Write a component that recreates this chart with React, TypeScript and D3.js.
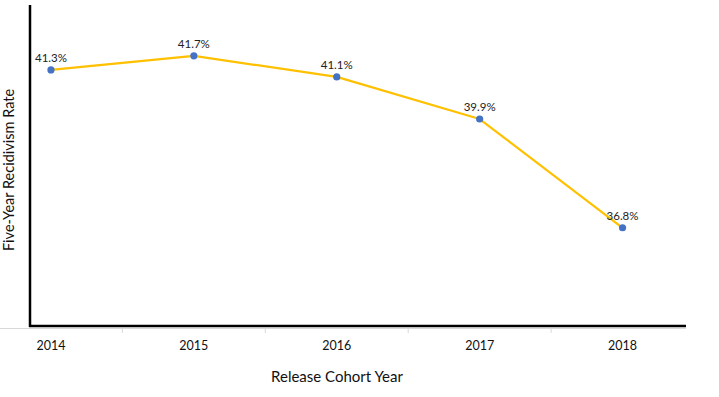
import React from "react";
import * as d3 from "d3";

const categories = ["2014", "2015", "2016", "2017", "2018"];
const values = [41.3, 41.7, 41.1, 39.9, 36.8];
const labels = ["41.3%", "41.7%", "41.1%", "39.9%", "36.8%"];

export default function App() {
  const W = 719, H = 397;
  const x = d3.scaleBand<string>().domain(categories).range([-20.5, 694]);
  const y = d3.scaleLinear().domain([34, 43.15]).range([326, 5]);
  const cx = (c: string) => (x(c) as number) + x.bandwidth() / 2;
  const line = d3.line<number>().x((_, i) => cx(categories[i])).y((v) => y(v));
  const font = "Lato, 'Open Sans', sans-serif";
  const boundaries = categories.slice(1).map((c) => x(c) as number);
  return (
    <svg width={W} height={H} style={{ position: "absolute", left: 0, top: 0, background: "#fff" }}>
      <line x1={0} x2={686} y1={328.5} y2={328.5} stroke="#d9d9d9" strokeWidth={1} />
      {boundaries.map((b, i) => (
        <line key={i} x1={b} x2={b} y1={328} y2={333} stroke="#d9d9d9" strokeWidth={1} />
      ))}
      <line x1={30} x2={30} y1={5} y2={327} stroke="#000" strokeWidth={2.5} />
      <line x1={29} x2={686} y1={326} y2={326} stroke="#000" strokeWidth={2.5} />
      <path d={line(values) || ""} fill="none" stroke="#FFC000" strokeWidth={2.2} strokeLinejoin="round" />
      {values.map((v, i) => (
        <circle key={i} cx={cx(categories[i])} cy={y(v)} r={3.6} fill="#4472C4" />
      ))}
      {values.map((v, i) => (
        <text key={i} x={cx(categories[i])} y={y(v) - 8} textAnchor="middle" fontSize={11.5} fontFamily={font} fill="#222">
          {labels[i]}
        </text>
      ))}
      {categories.map((c) => (
        <text key={c} x={cx(c)} y={350} textAnchor="middle" fontSize={12.5} fontFamily={font} fill="#111">
          {c}
        </text>
      ))}
      <text x={337} y={382} textAnchor="middle" fontSize={15} fontFamily={font} fill="#111">
        Release Cohort Year
      </text>
      <text transform="translate(14,170) rotate(-90)" textAnchor="middle" fontSize={14.5} fontFamily={font} fill="#111">
        Five-Year Recidivism Rate
      </text>
    </svg>
  );
}
